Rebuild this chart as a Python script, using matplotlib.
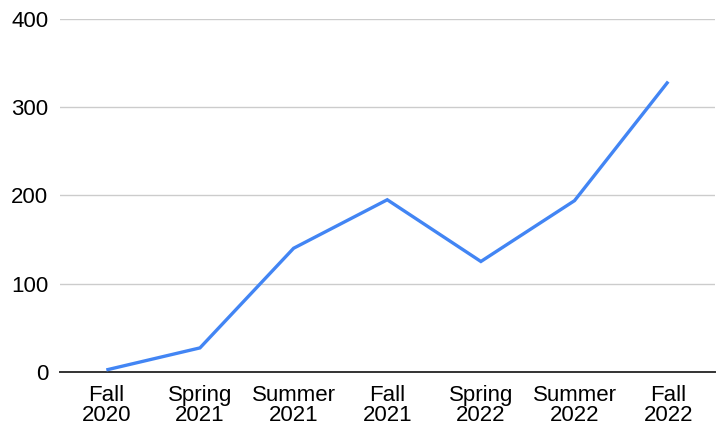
import matplotlib
matplotlib.use("Agg")
import matplotlib.pyplot as plt

categories = ["Fall\n2020", "Spring\n2021", "Summer\n2021", "Fall\n2021",
              "Spring\n2022", "Summer\n2022", "Fall\n2022"]
values = [2, 27, 140, 195, 125, 194, 329]
y_ticks = [0, 100, 200, 300, 400]

plt.rcParams['font.family'] = ['Liberation Sans', 'DejaVu Sans']

fig = plt.figure(figsize=(7.22, 4.26), dpi=100)
ax = fig.add_axes([59.5/722, 1 - 371.7/426, (715 - 59.5)/722, (371.7 - 19)/426])

x = list(range(len(categories)))
ax.plot(x, values, color="#4285F4", linewidth=2.4, solid_capstyle="butt",
        solid_joinstyle="miter", zorder=3, clip_on=False)

ax.set_xlim(-0.5, len(categories) - 0.5)
ax.set_ylim(0, 400)
ax.set_yticks(y_ticks)
ax.set_yticklabels([str(t) for t in y_ticks])
ax.set_xticks(x)
ax.set_xticklabels(categories, linespacing=0.95)

for t in y_ticks[1:]:
    ax.axhline(t, color="#cccccc", linewidth=1.0, zorder=1)
ax.axhline(0, color="#333333", linewidth=1.4, zorder=2, clip_on=False)

for s in ax.spines.values():
    s.set_visible(False)
ax.tick_params(axis="both", length=0, labelsize=16, colors="#000000")
ax.tick_params(axis="y", pad=8)
ax.tick_params(axis="x", pad=9.5)

fig.savefig("out.png", dpi=100)
